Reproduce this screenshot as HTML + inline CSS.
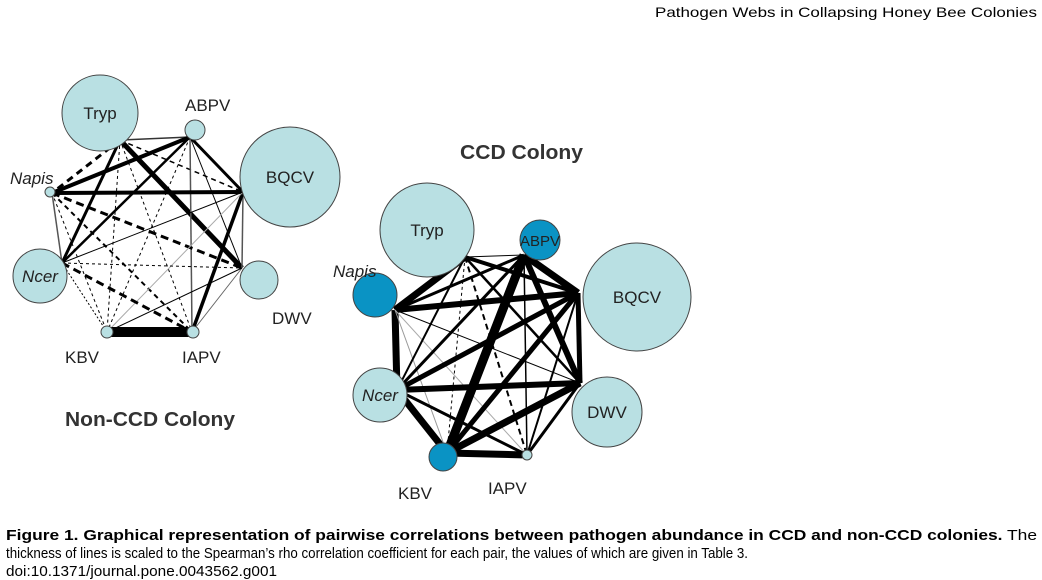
<!DOCTYPE html>
<html><head><meta charset="utf-8"><style>
html,body{margin:0;padding:0;background:#fff;}
svg{display:block;}
text{font-family:"Liberation Sans",sans-serif;}
</style></head><body>
<svg width="1042" height="580" viewBox="0 0 1042 580" xmlns="http://www.w3.org/2000/svg">
<text x="655" y="17" font-size="14" textLength="382" lengthAdjust="spacingAndGlyphs">Pathogen Webs in Collapsing Honey Bee Colonies</text>

<!-- LEFT GRAPH -->
<g stroke-linecap="butt" fill="none">
<!-- anchors: T(120,140) A(190,137) B(243,192) D(242,268) I(192,332) K(107,332) N(62,263) P(52,193) -->
<line x1="120" y1="140" x2="190" y2="137" stroke="#333" stroke-width="1.5"/>
<line x1="120" y1="140" x2="243" y2="192" stroke="#000" stroke-width="1.5" stroke-dasharray="5,4"/>
<line x1="120" y1="140" x2="242" y2="268" stroke="#000" stroke-width="5"/>
<line x1="120" y1="140" x2="192" y2="332" stroke="#000" stroke-width="1" stroke-dasharray="3,3"/>
<line x1="120" y1="140" x2="107" y2="332" stroke="#000" stroke-width="1" stroke-dasharray="3,3"/>
<line x1="120" y1="140" x2="62" y2="263" stroke="#000" stroke-width="3"/>
<line x1="120" y1="140" x2="52" y2="193" stroke="#000" stroke-width="3" stroke-dasharray="7,5"/>
<line x1="190" y1="137" x2="52" y2="193" stroke="#000" stroke-width="4"/>
<line x1="190" y1="137" x2="243" y2="192" stroke="#000" stroke-width="3"/>
<line x1="190" y1="137" x2="242" y2="268" stroke="#000" stroke-width="1"/>
<line x1="190" y1="137" x2="192" y2="332" stroke="#555" stroke-width="1.5"/>
<line x1="190" y1="137" x2="107" y2="332" stroke="#000" stroke-width="1" stroke-dasharray="3,3"/>
<line x1="190" y1="137" x2="62" y2="263" stroke="#000" stroke-width="2.5"/>
<line x1="52" y1="193" x2="243" y2="192" stroke="#000" stroke-width="4"/>
<line x1="52" y1="193" x2="242" y2="268" stroke="#000" stroke-width="3" stroke-dasharray="8,5"/>
<line x1="52" y1="193" x2="192" y2="332" stroke="#000" stroke-width="2" stroke-dasharray="5,4"/>
<line x1="52" y1="193" x2="107" y2="332" stroke="#000" stroke-width="1" stroke-dasharray="3,3"/>
<line x1="52" y1="193" x2="62" y2="263" stroke="#555" stroke-width="1.5"/>
<line x1="243" y1="192" x2="242" y2="268" stroke="#555" stroke-width="1.5"/>
<line x1="243" y1="192" x2="192" y2="332" stroke="#000" stroke-width="3.5"/>
<line x1="243" y1="192" x2="107" y2="332" stroke="#aaa" stroke-width="1"/>
<line x1="243" y1="192" x2="62" y2="263" stroke="#000" stroke-width="1"/>
<line x1="62" y1="263" x2="242" y2="268" stroke="#000" stroke-width="1" stroke-dasharray="3,3"/>
<line x1="62" y1="263" x2="192" y2="332" stroke="#000" stroke-width="3" stroke-dasharray="8,5"/>
<line x1="62" y1="263" x2="107" y2="332" stroke="#000" stroke-width="1" stroke-dasharray="2,2"/>
<line x1="242" y1="268" x2="192" y2="332" stroke="#666" stroke-width="1"/>
<line x1="242" y1="268" x2="107" y2="332" stroke="#000" stroke-width="1"/>
<line x1="107" y1="332" x2="192" y2="332" stroke="#000" stroke-width="10"/>
</g>
<g fill="#b9e0e3" stroke="#444" stroke-width="1">
<circle cx="100" cy="113" r="38"/>
<circle cx="195" cy="130" r="10"/>
<circle cx="290" cy="177" r="50"/>
<circle cx="50" cy="192" r="5"/>
<circle cx="40" cy="276" r="27"/>
<circle cx="259" cy="280" r="19"/>
<circle cx="107" cy="332" r="6"/>
<circle cx="193" cy="332" r="6"/>
</g>
<g font-size="17" fill="#222">
<text x="100" y="119" text-anchor="middle">Tryp</text>
<text x="290" y="183" text-anchor="middle">BQCV</text>
<text x="40" y="282" text-anchor="middle" font-style="italic">Ncer</text>
<text x="185" y="111">ABPV</text>
<text x="10" y="184" font-style="italic">Napis</text>
<text x="272" y="324">DWV</text>
<text x="65" y="363">KBV</text>
<text x="182" y="363">IAPV</text>
</g>
<text x="65" y="426" font-size="20" font-weight="bold" fill="#333" textLength="170" lengthAdjust="spacingAndGlyphs">Non-CCD Colony</text>

<!-- RIGHT GRAPH -->
<text x="460" y="159" font-size="20" font-weight="bold" fill="#333" textLength="123" lengthAdjust="spacingAndGlyphs">CCD Colony</text>
<g fill="none" stroke="#000">
<!-- T(465,257) A(524,255) B(578,293) D(580,383) I(527,455) K(447,453) N(397,390) P(395,310) -->
<line x1="465" y1="257" x2="524" y2="255" stroke-width="1"/>
<line x1="524" y1="255" x2="578" y2="293" stroke-width="7"/>
<line x1="578" y1="293" x2="580" y2="383" stroke-width="5"/>
<line x1="580" y1="383" x2="527" y2="455" stroke-width="3"/>
<line x1="527" y1="455" x2="447" y2="453" stroke-width="7"/>
<line x1="447" y1="453" x2="397" y2="390" stroke-width="7"/>
<line x1="397" y1="390" x2="395" y2="310" stroke-width="7"/>
<line x1="395" y1="310" x2="465" y2="257" stroke-width="7"/>
<line x1="395" y1="310" x2="578" y2="293" stroke-width="6"/>
<line x1="395" y1="310" x2="524" y2="255" stroke-width="3"/>
<line x1="395" y1="310" x2="580" y2="383" stroke-width="1"/>
<line x1="395" y1="310" x2="447" y2="453" stroke="#999" stroke-width="1"/>
<line x1="395" y1="310" x2="527" y2="455" stroke="#aaa" stroke-width="1"/>
<line x1="465" y1="257" x2="578" y2="293" stroke-width="4"/>
<line x1="465" y1="257" x2="580" y2="383" stroke-width="2.5"/>
<line x1="465" y1="257" x2="447" y2="453" stroke-width="1" stroke-dasharray="3,3"/>
<line x1="465" y1="257" x2="527" y2="455" stroke-width="2" stroke-dasharray="6,4"/>
<line x1="465" y1="257" x2="397" y2="390" stroke-width="2"/>
<line x1="524" y1="255" x2="447" y2="453" stroke-width="9"/>
<line x1="524" y1="255" x2="397" y2="390" stroke-width="3"/>
<line x1="524" y1="255" x2="580" y2="383" stroke-width="6"/>
<line x1="524" y1="255" x2="527" y2="455" stroke-width="1.5"/>
<line x1="578" y1="293" x2="397" y2="390" stroke-width="5"/>
<line x1="578" y1="293" x2="447" y2="453" stroke-width="5"/>
<line x1="578" y1="293" x2="527" y2="455" stroke-width="2"/>
<line x1="397" y1="390" x2="580" y2="383" stroke-width="6"/>
<line x1="397" y1="390" x2="527" y2="455" stroke-width="3"/>
<line x1="447" y1="453" x2="580" y2="383" stroke-width="7"/>
</g>
<g stroke="#444" stroke-width="1">
<circle cx="427" cy="230" r="47" fill="#b9e0e3"/>
<circle cx="540" cy="240" r="20" fill="#0a93c4"/>
<circle cx="637" cy="297" r="54" fill="#b9e0e3"/>
<circle cx="375" cy="295" r="22" fill="#0a93c4"/>
<circle cx="380" cy="395" r="27" fill="#b9e0e3"/>
<circle cx="607" cy="412" r="35" fill="#b9e0e3"/>
<circle cx="443" cy="457" r="14" fill="#0a93c4"/>
<circle cx="527" cy="455" r="5" fill="#b9e0e3"/>
</g>
<g font-size="17" fill="#222">
<text x="427" y="236" text-anchor="middle">Tryp</text>
<text x="540" y="246" text-anchor="middle" font-size="15">ABPV</text>
<text x="637" y="303" text-anchor="middle">BQCV</text>
<text x="380" y="401" text-anchor="middle" font-style="italic">Ncer</text>
<text x="607" y="418" text-anchor="middle">DWV</text>
<text x="333" y="277" font-style="italic">Napis</text>
<text x="398" y="499">KBV</text>
<text x="488" y="494">IAPV</text>
</g>

<!-- CAPTION -->
<text x="6" y="540" font-size="15" textLength="1031" lengthAdjust="spacingAndGlyphs"><tspan font-weight="bold">Figure 1. Graphical representation of pairwise correlations between pathogen abundance in CCD and non-CCD colonies.</tspan> The</text>
<text x="6" y="558" font-size="15" textLength="742" lengthAdjust="spacingAndGlyphs">thickness of lines is scaled to the Spearman’s rho correlation coefficient for each pair, the values of which are given in Table 3.</text>
<text x="6" y="576" font-size="15" textLength="271" lengthAdjust="spacingAndGlyphs">doi:10.1371/journal.pone.0043562.g001</text>
</svg>
</body></html>
